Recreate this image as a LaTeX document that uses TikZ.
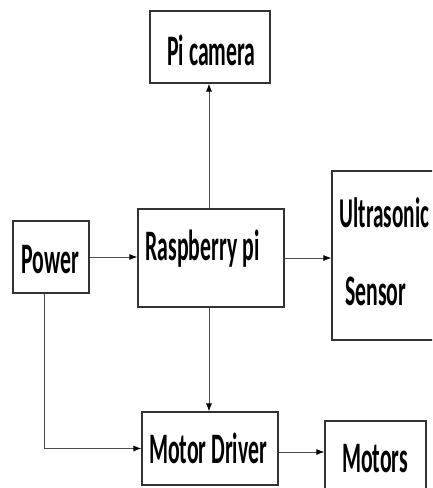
\documentclass[tikz,border=0pt]{standalone}
\usepackage{fontspec}
\newfontfamily\lblfont[FakeStretch=0.5]{Carlito}
\usetikzlibrary{arrows.meta,calc}
\begin{document}
\begin{tikzpicture}[x=1pt,y=-1pt,
  boxst/.style={draw=black!80,line width=1.2pt,rectangle,inner sep=0pt},
  txt/.style={inner sep=0pt,anchor=base,font=\lblfont\bfseries\fontsize{43.5}{50}\selectfont},
  arr/.style={draw=black!70,line width=0.9pt,-{Latex[length=8pt,width=6pt,fill=black,color=black]}}]
\useasboundingbox (0,0) rectangle (432,488);
\clip (0,0) rectangle (432,488);
\fill[white] (0,0) rectangle (432,488);
% boxes
\node[boxst,minimum width=120pt,minimum height=72pt] (cam) at (210,47) {};
\node[boxst,minimum width=146pt,minimum height=98pt] (rpi) at (211,258) {};
\node[boxst,minimum width=76pt,minimum height=72pt] (power) at (51,257) {};
\node[boxst,minimum width=113pt,minimum height=169pt] (ultra) at (388.5,255.5) {};
\node[boxst,minimum width=136pt,minimum height=73pt] (driver) at (210,448.5) {};
\node[boxst,minimum width=101pt,minimum height=80pt] (motors) at (375.5,461) {};
% texts
\node[txt] (camt) at (211.5,65) {Pi camera};
\node[txt] (rpit) at (202.5,260) {Raspberry pi};
\node[txt] (powert) at (50,273) {Power};
\node[txt,anchor=base west,font=\lblfont\bfseries\fontsize{42.5}{50}\selectfont] (ultrat1) at (339.5,227) {Ultrasonic};
\node[txt,anchor=base west] (ultrat2) at (345,305) {Sensor};
\node[txt] (drivert) at (208,463) {Motor Driver};
\node[txt] (motorst) at (375,472) {Motors};
% connectors
\draw[arr] ([xshift=-2pt]rpi.north) -- ([xshift=-2pt]rpi.north |- cam.south);
\draw[arr] (power.east) -- (power.east -| rpi.west);
\draw[arr] (rpi.east) -- (rpi.east -| ultra.west);
\draw[arr] ([xshift=-2pt]rpi.south) -- ([xshift=-2pt]rpi.south |- driver.north);
\draw[arr] ([xshift=-7pt]power.south) |- (driver.west);
\draw[arr] ([yshift=-3.5pt]driver.east) -- ([yshift=-3.5pt]driver.east -| motors.west);
\end{tikzpicture}
\end{document}
